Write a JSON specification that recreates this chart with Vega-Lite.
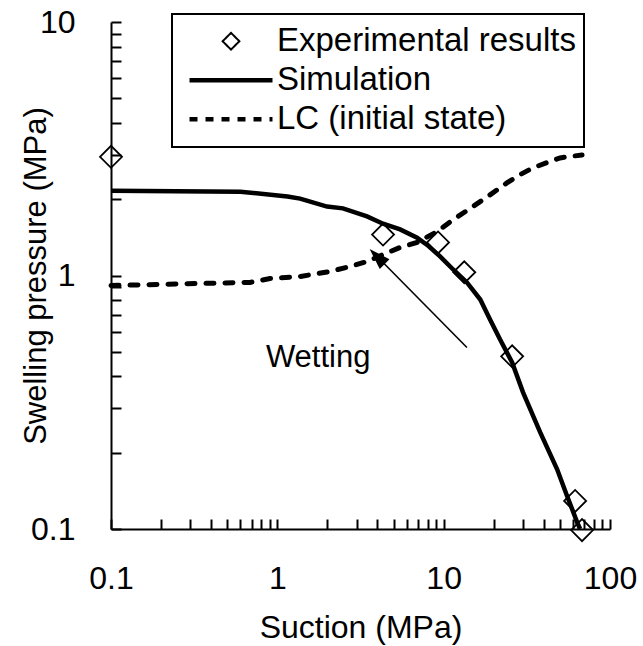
{
  "$schema": "https://vega.github.io/schema/vega-lite/v6.json",
  "width": 499,
  "height": 507,
  "autosize": {"type": "none"},
  "padding": {"left": 111, "top": 22, "right": 33, "bottom": 117},
  "background": "white",
  "config": {
    "view": {"stroke": null},
    "font": "Liberation Sans",
    "axis": {
      "grid": false,
      "domainColor": "black",
      "domainWidth": 2,
      "tickColor": "black",
      "tickWidth": 2,
      "tickSize": -10,
      "labelColor": "black",
      "labelFont": "Liberation Sans",
      "labelFontSize": 32,
      "labelOverlap": false,
      "labelFlush": false,
      "titleColor": "black",
      "titleFont": "Liberation Sans",
      "titleFontSize": 31,
      "titleFontWeight": "normal"
    }
  },
  "datasets": {
    "exp": [
      {"series": "Experimental results", "suction": 0.1, "pressure": 2.94},
      {"series": "Experimental results", "suction": 4.32, "pressure": 1.45},
      {"series": "Experimental results", "suction": 9.25, "pressure": 1.35},
      {"series": "Experimental results", "suction": 13.3, "pressure": 1.03},
      {"series": "Experimental results", "suction": 25.8, "pressure": 0.48},
      {"series": "Experimental results", "suction": 61.7, "pressure": 0.129},
      {"series": "Experimental results", "suction": 67.9, "pressure": 0.099}
    ],
    "sim": [
      {"series": "Simulation", "suction": 0.1, "pressure": 2.16},
      {"series": "Simulation", "suction": 0.6, "pressure": 2.14},
      {"series": "Simulation", "suction": 1.15, "pressure": 2.05},
      {"series": "Simulation", "suction": 1.37, "pressure": 2.01},
      {"series": "Simulation", "suction": 1.99, "pressure": 1.87},
      {"series": "Simulation", "suction": 2.48, "pressure": 1.84},
      {"series": "Simulation", "suction": 3.46, "pressure": 1.71},
      {"series": "Simulation", "suction": 4.32, "pressure": 1.6},
      {"series": "Simulation", "suction": 5.47, "pressure": 1.52},
      {"series": "Simulation", "suction": 6.92, "pressure": 1.41},
      {"series": "Simulation", "suction": 7.95, "pressure": 1.32},
      {"series": "Simulation", "suction": 9.51, "pressure": 1.19},
      {"series": "Simulation", "suction": 11.4, "pressure": 1.056},
      {"series": "Simulation", "suction": 13.8, "pressure": 0.939},
      {"series": "Simulation", "suction": 16.6, "pressure": 0.804},
      {"series": "Simulation", "suction": 19.0, "pressure": 0.671},
      {"series": "Simulation", "suction": 21.8, "pressure": 0.56},
      {"series": "Simulation", "suction": 25.8, "pressure": 0.454},
      {"series": "Simulation", "suction": 30.0, "pressure": 0.346},
      {"series": "Simulation", "suction": 38.0, "pressure": 0.241},
      {"series": "Simulation", "suction": 48.1, "pressure": 0.172},
      {"series": "Simulation", "suction": 55.2, "pressure": 0.135},
      {"series": "Simulation", "suction": 63.4, "pressure": 0.1065},
      {"series": "Simulation", "suction": 66.1, "pressure": 0.1}
    ],
    "lc": [
      {"series": "LC (initial state)", "suction": 0.1, "pressure": 0.913},
      {"series": "LC (initial state)", "suction": 0.343, "pressure": 0.93},
      {"series": "LC (initial state)", "suction": 0.686, "pressure": 0.939},
      {"series": "LC (initial state)", "suction": 0.904, "pressure": 0.973},
      {"series": "LC (initial state)", "suction": 1.37, "pressure": 0.991},
      {"series": "LC (initial state)", "suction": 2.07, "pressure": 1.037},
      {"series": "LC (initial state)", "suction": 2.74, "pressure": 1.085},
      {"series": "LC (initial state)", "suction": 3.46, "pressure": 1.135},
      {"series": "LC (initial state)", "suction": 4.32, "pressure": 1.21},
      {"series": "LC (initial state)", "suction": 5.47, "pressure": 1.29},
      {"series": "LC (initial state)", "suction": 6.92, "pressure": 1.35},
      {"series": "LC (initial state)", "suction": 9.13, "pressure": 1.49},
      {"series": "LC (initial state)", "suction": 11.4, "pressure": 1.66},
      {"series": "LC (initial state)", "suction": 15.0, "pressure": 1.87},
      {"series": "LC (initial state)", "suction": 19.0, "pressure": 2.08},
      {"series": "LC (initial state)", "suction": 24.0, "pressure": 2.32},
      {"series": "LC (initial state)", "suction": 28.8, "pressure": 2.5},
      {"series": "LC (initial state)", "suction": 34.5, "pressure": 2.66},
      {"series": "LC (initial state)", "suction": 41.9, "pressure": 2.79},
      {"series": "LC (initial state)", "suction": 50.1, "pressure": 2.91},
      {"series": "LC (initial state)", "suction": 67.9, "pressure": 2.99}
    ],
    "arrow": [
      {"suction": 13.8, "pressure": 0.52, "suction2": 3.98, "pressure2": 1.188}
    ],
    "head": [
      {"suction": 3.98, "pressure": 1.188}
    ],
    "note": [
      {"suction": 1.76, "pressure": 0.471, "text": "Wetting"}
    ]
  },
  "encoding": {
    "x": {
      "field": "suction", "type": "quantitative",
      "scale": {"type": "log", "domain": [0.1, 100], "nice": false},
      "axis": {
        "title": "Suction (MPa)",
        "titleFontSize": 32,
        "values": [0.1, 0.2, 0.3, 0.4, 0.5, 0.6, 0.7, 0.8, 0.9, 1, 2, 3, 4, 5, 6, 7, 8, 9, 10, 20, 30, 40, 50, 60, 70, 80, 90, 100],
        "labelExpr": "datum.value == 0.1 ? '0.1' : datum.value == 1 ? '1' : datum.value == 10 ? '10' : datum.value == 100 ? '100' : ''",
        "labelPadding": 44,
        "titlePadding": 18
      }
    },
    "y": {
      "field": "pressure", "type": "quantitative",
      "scale": {"type": "log", "domain": [0.1, 10], "nice": false},
      "axis": {
        "title": "Swelling pressure  (MPa)",
        "values": [0.1, 0.2, 0.3, 0.4, 0.5, 0.6, 0.7, 0.8, 0.9, 1, 2, 3, 4, 5, 6, 7, 8, 9, 10],
        "labelExpr": "datum.value == 0.1 ? '0.1' : datum.value == 1 ? '1' : datum.value == 10 ? '10' : ''",
        "labelPadding": 46,
        "titlePadding": -22
      }
    }
  },
  "layer": [
    {
      "data": {"name": "sim"},
      "mark": {"type": "line", "strokeWidth": 4.5, "clip": false},
      "encoding": {
        "color": {
          "field": "series", "type": "nominal",
          "scale": {"domain": ["Experimental results", "Simulation", "LC (initial state)"], "range": ["black", "black", "black"]},
          "legend": {
            "orient": "none",
            "legendX": 61,
            "legendY": -8,
            "title": null,
            "strokeColor": "black",
            "fillColor": "white",
            "padding": 8,
            "labelFont": "Liberation Sans",
            "labelFontSize": 33,
            "labelColor": "black",
            "labelLimit": 0,
            "labelOffset": 6,
            "symbolSize": 6889,
            "symbolStrokeWidth": 4,
            "clipHeight": 38.5,
            "rowPadding": 0,
            "encode": {
              "legend": {"update": {"strokeWidth": {"value": 2}}},
              "symbols": {
                "update": {
                  "x": {"value": 51},
                  "shape": {"signal": "datum.value === 'Experimental results' ? 'diamond' : 'stroke'"},
                  "size": {"signal": "datum.value === 'Experimental results' ? 280 : 6889"},
                  "strokeWidth": {"signal": "datum.value === 'Experimental results' ? 2 : 4.5"},
                  "strokeDash": {"signal": "datum.value === 'LC (initial state)' ? [8, 8] : [1, 0]"},
                  "stroke": {"value": "black"},
                  "fill": {"value": "transparent"}
                }
              },
              "labels": {
                "update": {
                  "x": {"value": 97}
                }
              }
            }
          }
        }
      }
    },
    {
      "data": {"name": "lc"},
      "mark": {"type": "line", "strokeWidth": 5, "strokeDash": [8, 11], "strokeCap": "round", "clip": false},
      "encoding": {
        "color": {"field": "series", "type": "nominal"}
      }
    },
    {
      "data": {"name": "exp"},
      "mark": {"type": "point", "shape": "diamond", "filled": false, "size": 484, "strokeWidth": 1.8, "opacity": 1, "clip": false},
      "encoding": {
        "color": {"field": "series", "type": "nominal"}
      }
    },
    {
      "data": {"name": "arrow"},
      "mark": {"type": "rule", "color": "black", "strokeWidth": 1.6},
      "encoding": {
        "x2": {"field": "suction2"},
        "y2": {"field": "pressure2"}
      }
    },
    {
      "data": {"name": "head"},
      "mark": {"type": "point", "shape": "M0,-1L0.65,1L-0.65,1Z", "filled": true, "color": "black", "size": 450, "angle": 315, "opacity": 1}
    },
    {
      "data": {"name": "note"},
      "mark": {"type": "text", "font": "Liberation Sans", "fontSize": 31, "color": "black", "align": "center", "baseline": "middle"},
      "encoding": {
        "text": {"field": "text"}
      }
    }
  ]
}
